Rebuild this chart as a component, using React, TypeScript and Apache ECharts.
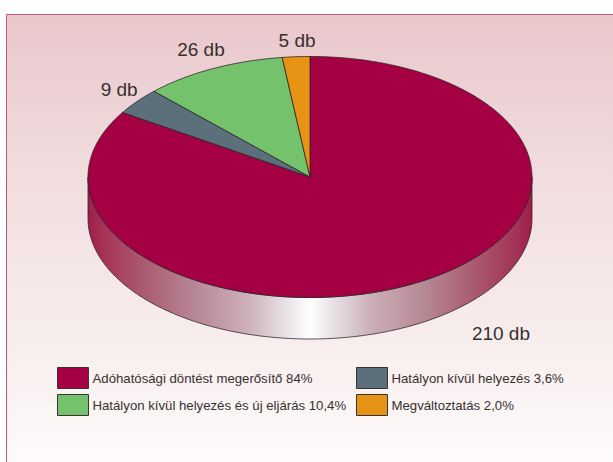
import React, { useEffect, useRef } from "react";
import * as echarts from "echarts";

const names = [
  "Adóhatósági döntést megerősítő 84%",
  "Hatályon kívül helyezés 3,6%",
  "Hatályon kívül helyezés és új eljárás 10,4%",
  "Megváltoztatás 2,0%",
];
const counts = [210, 9, 26, 5];
const colors = ["#a50044", "#5b707b", "#74c26c", "#e69316"];
const labelOffsets = [[84, 51], [-18, -12], [-12, -19], [1, -16]];

const CX = 310;
const CY = 177;
const RX = 222;
const RY = 120.5;
const DEPTH = 41.5;
const total = counts.reduce((a, b) => a + b, 0);

const at = (deg: number, dy = 0): number[] => {
  const t = (deg * Math.PI) / 180;
  return [CX + RX * Math.sin(t), CY - RY * Math.cos(t) + dy];
};
const arc = (from: number, to: number, dy = 0): number[][] => {
  const pts: number[][] = [];
  const n = Math.max(2, Math.ceil(Math.abs(to - from) * 2));
  for (let i = 0; i <= n; i++) pts.push(at(from + ((to - from) * i) / n, dy));
  return pts;
};

const rimGradient = new echarts.graphic.LinearGradient(
  CX - RX, 0, CX + RX, 0,
  [
    { offset: 0, color: "#a01c4a" },
    { offset: 0.04, color: "#a63558" },
    { offset: 0.13, color: "#ab5d72" },
    { offset: 0.25, color: "#b88a98" },
    { offset: 0.36, color: "#cdb0b9" },
    { offset: 0.45, color: "#e9e4e9" },
    { offset: 0.5, color: "#ffffff" },
    { offset: 0.55, color: "#e9e2e7" },
    { offset: 0.64, color: "#cbaeb7" },
    { offset: 0.76, color: "#b68794" },
    { offset: 0.87, color: "#a95a6e" },
    { offset: 0.96, color: "#a43558" },
    { offset: 1, color: "#a01c4a" },
  ],
  true,
);

const edge = { stroke: "#2b2528", lineWidth: 0.8 };

const renderSlice = (params: any, api: any) => {
  const idx = params.seriesIndex;
  const value = api.value(0);
  const before = counts.slice(0, idx).reduce((a, b) => a + b, 0);
  const start = (before / total) * 360;
  const end = ((before + value) / total) * 360;
  const mid = (start + end) / 2;
  const children: any[] = [];
  const rimFrom = Math.max(start, 90);
  const rimTo = Math.min(end, 270);
  if (rimTo > rimFrom) {
    children.push({
      type: "polygon",
      silent: true,
      shape: { points: [...arc(rimFrom, rimTo), ...arc(rimTo, rimFrom, DEPTH)] },
      style: { fill: rimGradient, ...edge },
    });
  }
  children.push({
    type: "polygon",
    silent: true,
    shape: { points: [[CX, CY], ...arc(start, end)] },
    style: { fill: colors[idx], ...edge },
  });
  const p = at(mid);
  const off = labelOffsets[idx];
  children.push({
    type: "text",
    silent: true,
    x: p[0] + off[0],
    y: p[1] + off[1],
    style: {
      text: `${value} db`,
      fill: "#37302f",
      font: '19px "Liberation Sans", Arial, sans-serif',
      align: "center",
      verticalAlign: "middle",
    },
  });
  return { type: "group", children };
};

const legendBase = {
  orient: "vertical" as const,
  top: 367,
  itemWidth: 31,
  itemHeight: 21,
  itemGap: 5,
  selectedMode: false,
  icon: "rect",
  textStyle: {
    color: "#37302f",
    fontSize: 13.2,
    fontFamily: '"Liberation Sans", Arial, sans-serif',
    padding: [2, 0, 0, -1],
  },
  itemStyle: { borderColor: "#3a3235", borderWidth: 1 },
  padding: 0,
};

export default function App() {
  const ref = useRef<HTMLDivElement>(null);
  useEffect(() => {
    const chart = echarts.init(ref.current!, undefined, { renderer: "svg" });
    chart.setOption({
      animation: false,
      backgroundColor: "#ffffff",
      graphic: [
        {
          type: "rect",
          z: -10,
          silent: true,
          shape: { x: 6.5, y: 14.5, width: 640, height: 480 },
          style: {
            fill: new echarts.graphic.LinearGradient(0, 14, 0, 462, [
              { offset: 0, color: "#e9c7cb" },
              { offset: 0.4, color: "#f2dfe0" },
              { offset: 0.75, color: "#f8eeee" },
              { offset: 1, color: "#fefbfb" },
            ], true),
            stroke: "#c5557f",
            lineWidth: 1,
          },
        },
      ],
      legend: [
        { ...legendBase, left: 57, data: [names[0], names[2]] },
        { ...legendBase, left: 356, data: [names[1], names[3]] },
      ],
      series: names.map((name, i) => ({
        type: "custom",
        name,
        coordinateSystem: "none",
        silent: true,
        itemStyle: { color: colors[i] },
        renderItem: renderSlice,
        data: [[counts[i]]],
      })),
    });
    return () => chart.dispose();
  }, []);
  return (
    <div
      ref={ref}
      style={{ position: "absolute", left: 0, top: 0, width: 613, height: 462 }}
    />
  );
}
